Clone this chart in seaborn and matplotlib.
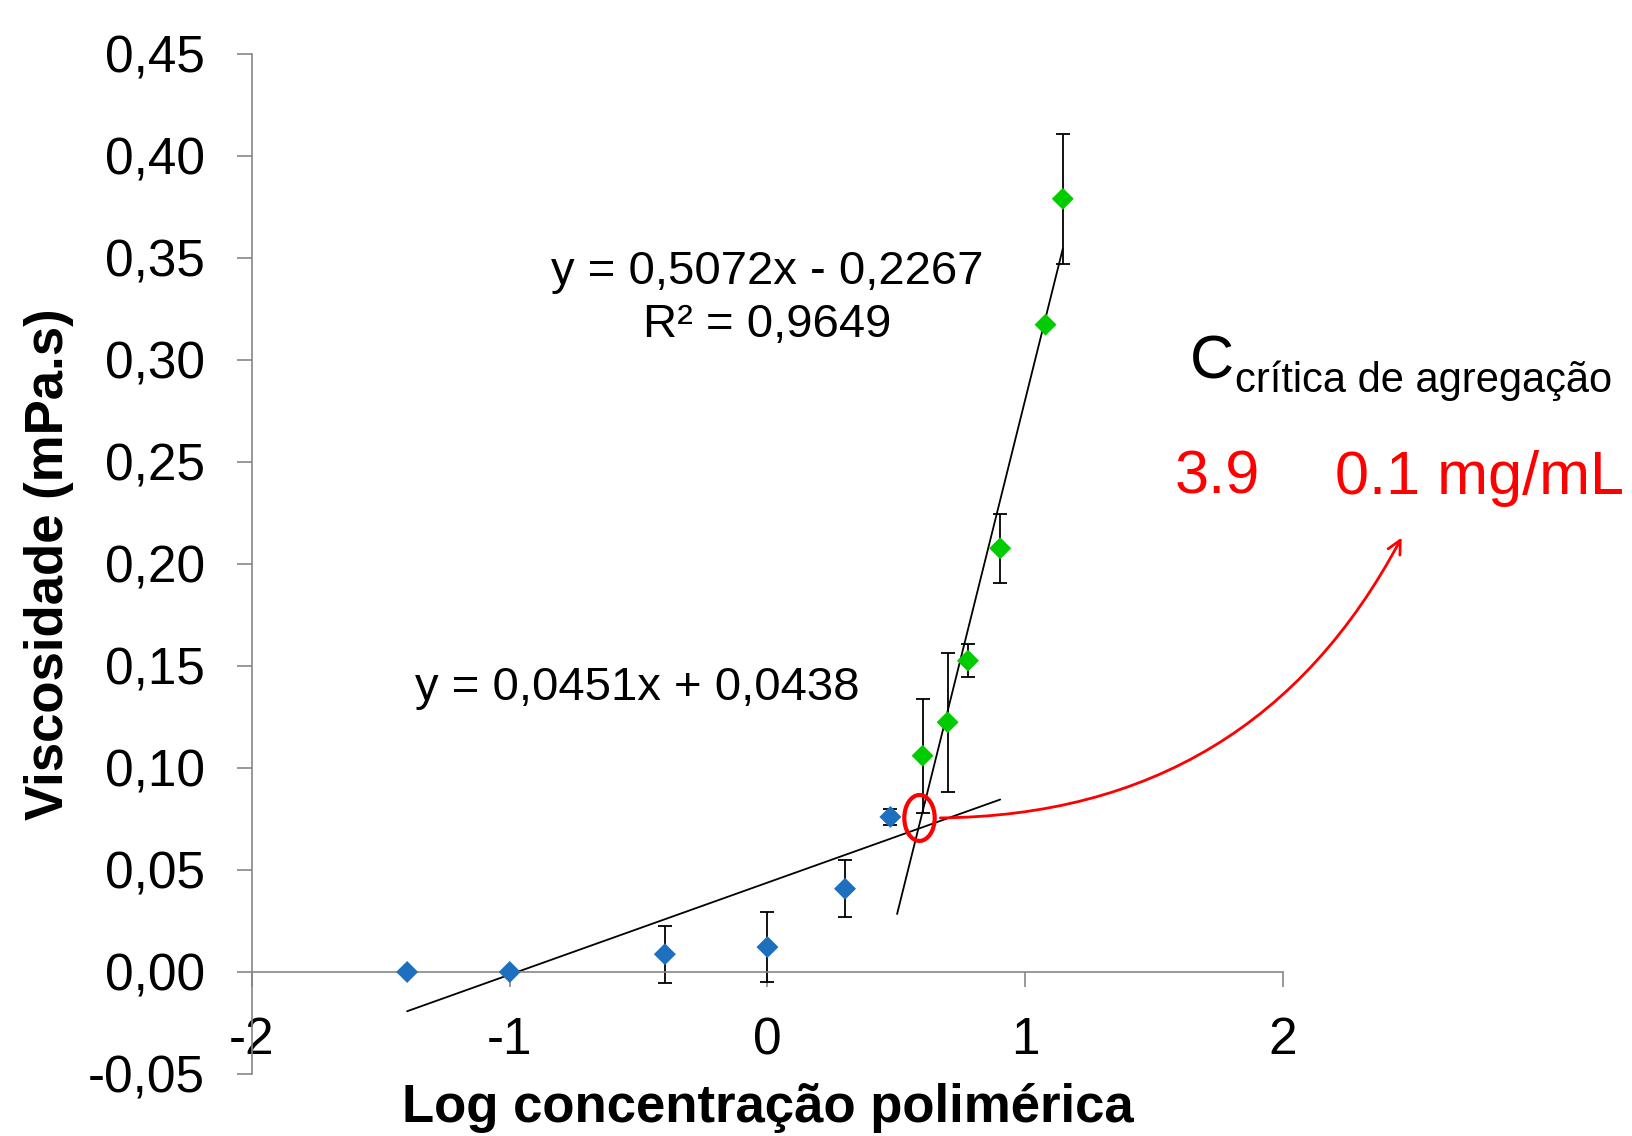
import numpy as np
import pandas as pd
import matplotlib
matplotlib.use("Agg")
import matplotlib.pyplot as plt
import seaborn as sns
from matplotlib.patches import Ellipse

# ---- data ----
blue_x = [-1.398, -1.0, -0.398, 0.0, 0.301, 0.477]
blue_y = [0.0, 0.0, 0.0087, 0.0122, 0.0408, 0.076]
blue_err = [0.0, 0.0, 0.014, 0.017, 0.014, 0.004]
green_x = [0.602, 0.699, 0.778, 0.903, 1.079, 1.146]
green_y = [0.106, 0.1224, 0.1526, 0.2077, 0.3173, 0.379]
green_err = [0.028, 0.034, 0.008, 0.017, 0.0, 0.032]

fit_blue = (0.0451, 0.0438)
fit_blue_range = [-1.398, 0.903]
fit_green = (0.5072, -0.2267)
fit_green_range = [0.503, 1.146]

x_ticks = [-2, -1, 0, 1, 2]
y_ticks = [-0.05, 0.0, 0.05, 0.10, 0.15, 0.20, 0.25, 0.30, 0.35, 0.40, 0.45]
y_ticklabels = ["-0,05", "0,00", "0,05", "0,10", "0,15", "0,20", "0,25",
                "0,30", "0,35", "0,40", "0,45"]

eq_green = "y = 0,5072x - 0,2267"
r2_green = "R² = 0,9649"
eq_blue = "y = 0,0451x + 0,0438"

sns.set_theme(style="white")
plt.rcParams['font.family'] = ['Liberation Sans', 'DejaVu Sans']
plt.rcParams['text.color'] = 'black'
plt.rcParams['axes.labelcolor'] = 'black'
plt.rcParams['xtick.labelcolor'] = 'black'
plt.rcParams['ytick.labelcolor'] = 'black'

BLUE = "#1f6fbf"
GREEN = "#00cc00"
RED = "#ff0000"
SPINE = "#868686"

fig = plt.figure(figsize=(16.32, 11.36), dpi=100)
ax = fig.add_axes([0.1544, 0.0546, 0.6317, 0.8979])

df_b = pd.DataFrame({"x": blue_x, "y": blue_y})
df_g = pd.DataFrame({"x": green_x, "y": green_y})

ax.errorbar(blue_x, blue_y, yerr=blue_err, fmt='none', ecolor='black',
            elinewidth=1.3, capsize=5, capthick=1.3, zorder=2)
ax.errorbar(green_x, green_y, yerr=green_err, fmt='none', ecolor='black',
            elinewidth=1.3, capsize=5, capthick=1.3, zorder=2)

# trend lines
xb = np.array(fit_blue_range)
xg = np.array(fit_green_range)
sns.lineplot(x=xb, y=fit_blue[0] * xb + fit_blue[1], ax=ax, color='black',
             linewidth=1.3, zorder=2)
sns.lineplot(x=xg, y=fit_green[0] * xg + fit_green[1], ax=ax, color='black',
             linewidth=1.3, zorder=2)

sns.scatterplot(data=df_b, x="x", y="y", ax=ax, marker='D', s=125,
                color=BLUE, edgecolor='none', zorder=3)
sns.scatterplot(data=df_g, x="x", y="y", ax=ax, marker='D', s=125,
                color=GREEN, edgecolor='none', zorder=3)

ax.set_xlim(-2, 2)
ax.set_ylim(-0.05, 0.45)
ax.set_xticks(x_ticks)
ax.set_xticklabels([str(t) for t in x_ticks])
ax.set_yticks(y_ticks)
ax.set_yticklabels(y_ticklabels)

for s in ['top', 'right']:
    ax.spines[s].set_visible(False)
ax.spines['bottom'].set_position(('data', 0))
for s in ['left', 'bottom']:
    ax.spines[s].set_color(SPINE)
    ax.spines[s].set_linewidth(1.2)

ax.tick_params(axis='x', direction='out', length=11, width=1.2, color=SPINE,
               labelsize=37, pad=21, bottom=True, labelcolor='black')
ax.tick_params(axis='y', direction='out', length=11, width=1.2, color=SPINE,
               labelsize=37, pad=23, left=True, labelcolor='black')

ax.set_xlabel("Log concentração polimérica", fontsize=38, fontweight='bold',
              va='baseline', color='black')
ax.xaxis.set_label_coords(0.5, -0.047)
ax.set_ylabel("Viscosidade (mPa.s)", fontsize=38, fontweight='bold',
              va='center', color='black')
ax.yaxis.set_label_coords(-0.197, 0.5)

# equations
ax.text(0.0, 0.343, eq_green, fontsize=34, ha='center', va='center',
        color='black')
ax.text(0.0, 0.317, r2_green, fontsize=34, ha='center', va='center',
        color='black')
ax.text(-0.507, 0.139, eq_blue, fontsize=34, ha='center', va='center',
        color='black')

# red ellipse
ax.add_patch(Ellipse((0.59, 0.0755), 0.118, 0.0225, fill=False,
                     edgecolor=RED, linewidth=3, zorder=4, clip_on=False))

# curved arrow
ax.annotate("", xy=(2.466, 0.2142), xytext=(0.66, 0.0755),
            arrowprops=dict(arrowstyle='->,head_length=0.8,head_width=0.4',
                            color=RED, lw=2,
                            connectionstyle='arc3,rad=0.3'),
            annotation_clip=False, zorder=4)

# annotation text
ax.text(1.639, 0.2907, "C", fontsize=44, ha='left', va='baseline',
        clip_on=False, color='black')
ax.text(1.814, 0.2843, "crítica de agregação", fontsize=30, ha='left',
        va='baseline', clip_on=False, color='black')
ax.text(1.581, 0.2343, "3.9", fontsize=44, color=RED, ha='left',
        va='baseline', clip_on=False)
ax.text(2.202, 0.2343, "0.1 mg/mL", fontsize=44, color=RED, ha='left',
        va='baseline', clip_on=False)

fig.savefig("out.png", dpi=100)
